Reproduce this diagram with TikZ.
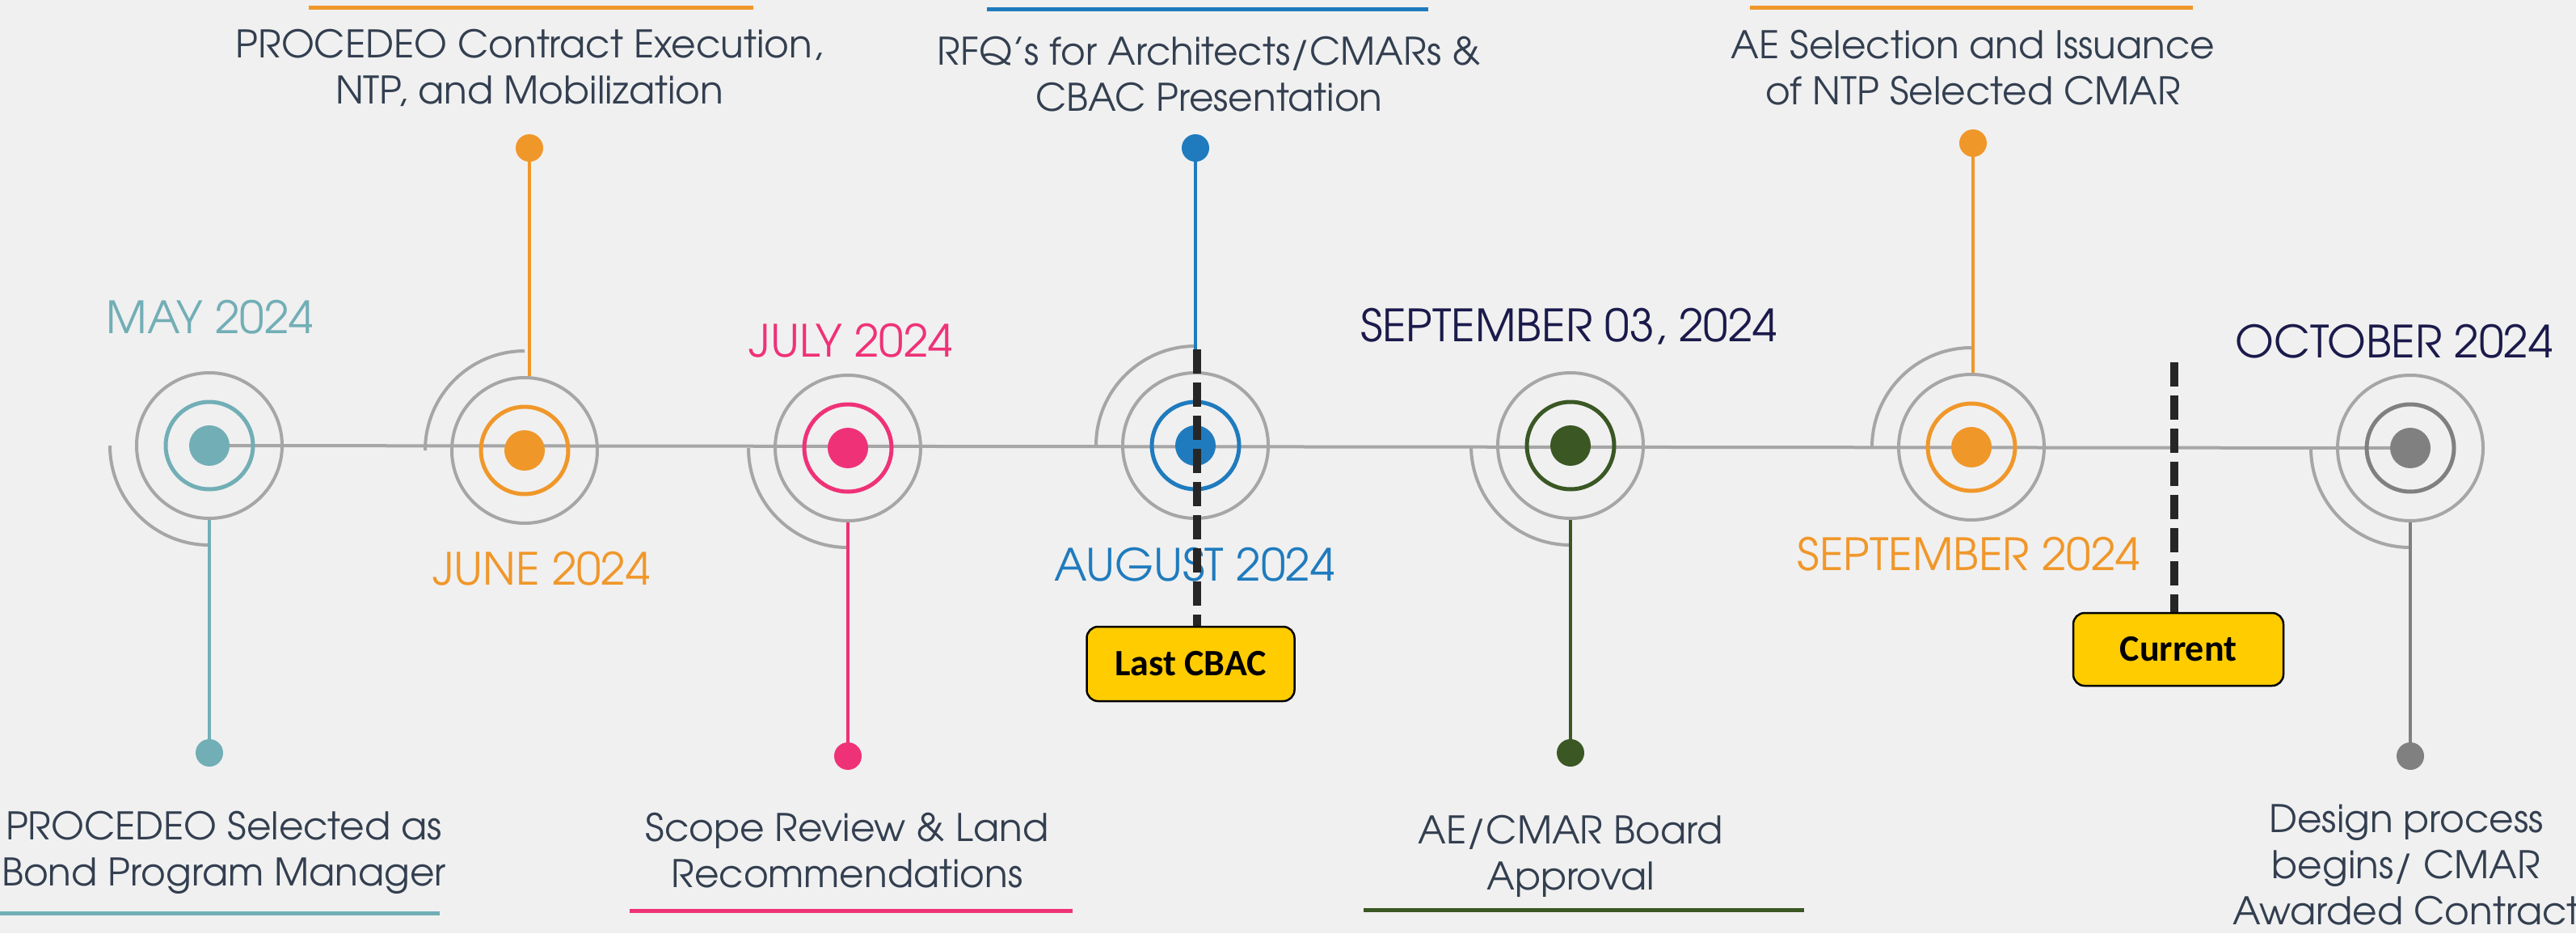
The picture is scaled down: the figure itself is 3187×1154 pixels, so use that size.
\documentclass[tikz,border=0pt]{standalone}
\usepackage{fontspec}
\setmainfont{texgyreadventor-regular.otf}
\newfontfamily\flagfont{Carlito}
\usetikzlibrary{backgrounds}

\definecolor{bgpaper}{HTML}{F0F0F0}
\definecolor{ringgray}{HTML}{A6A6A6}
\definecolor{mayteal}{HTML}{72AEB6}
\definecolor{sunorange}{HTML}{F0972A}
\definecolor{julypink}{HTML}{EF3277}
\definecolor{augblue}{HTML}{1F7BBE}
\definecolor{boardgreen}{HTML}{3A5724}
\definecolor{octgray}{HTML}{808080}
\definecolor{navytext}{HTML}{1B1A4B}
\definecolor{slatetext}{HTML}{333F50}
\definecolor{flagyellow}{HTML}{FFCC00}
\definecolor{markerdark}{HTML}{262626}

\begin{document}
\begin{tikzpicture}[x=1pt, y=1pt,
  ring/.style={circle, draw=ringgray, line width=4pt, minimum size=180pt, inner sep=0pt},
  midring/.style={circle, line width=5pt, minimum size=108pt, inner sep=0pt},
  core/.style={circle, minimum size=50pt, inner sep=0pt},
  tipdot/.style={circle, minimum size=34pt, inner sep=0pt},
  stem/.style={line width=4.5pt},
  swirl/.style={draw=ringgray, line width=4pt},
  axis/.style={draw=ringgray, line width=4pt},
  datelabel/.style={font=\fontsize{55}{60}\selectfont, anchor=base, inner sep=0pt},
  desc/.style={font=\fontsize{47}{57}\selectfont, text=slatetext, align=center, anchor=base, inner sep=0pt},
  bar/.style={line width=5pt},
  flag/.style={draw=black, line width=2.5pt, fill=flagyellow, rounded corners=14pt,
    minimum width=257pt, minimum height=92pt, inner sep=0pt,
    font=\flagfont\bfseries\fontsize{46}{50}\selectfont},
  marker/.style={draw=markerdark, line width=10pt, dash pattern=on 30pt off 11pt}
]

  \useasboundingbox (0,0) rectangle (3187,-1154);

  % Meilensteine: Ringe, Bogen, Stiel und Endpunkt
  \foreach \m/\x/\y/\c/\a/\side/\tx/\ty in {
      may/259/551/mayteal/270/south/259/931,
      june/649/557/sunorange/90/north/655/183,
      july/1049/554/julypink/270/south/1049/935,
      august/1479/551/augblue/90/north/1479/183,
      board/1943/551/boardgreen/270/south/1943/931,
      september/2439/553/sunorange/90/north/2441/177,
      october/2982/554/octgray/270/south/2982/935} {
    \node[ring] (\m) at (\x,-\y) {};
    \node[midring, draw=\c] (\m-mid) at (\m) {};
    \node[core, fill=\c] (\m-core) at (\m) {};
    \node[tipdot, fill=\c] (\m-tip) at (\tx,-\ty) {};
    \draw[swirl] (\m.center) ++(-123,0) arc[start angle=180, end angle=\a, radius=123];
    \draw[stem, draw=\c] (\m-tip) -- (\m-tip |- \m.\side);
  }

  % Hintergrund und Zeitachse
  \begin{scope}[on background layer]
    \fill[bgpaper] (0,0) rectangle (3187,-1154);
    \draw[axis] (may.center) -- (october.center);
  \end{scope}

  % Datumsangaben
  \node[datelabel, text=mayteal] (may-date) at (260,-412) {MAY 2024};
  \node[datelabel, text=sunorange] (june-date) at (670,-723) {JUNE 2024};
  \node[datelabel, text=julypink] (july-date) at (1053,-441) {JULY 2024};
  \node[datelabel, text=augblue] (august-date) at (1478,-718) {AUGUST 2024};
  \node[datelabel, text=navytext] (board-date) at (1941,-422) {SEPTEMBER 03, 2024};
  \node[datelabel, text=sunorange] (september-date) at (2436,-705) {SEPTEMBER 2024};
  \node[datelabel, text=navytext] (october-date) at (2962,-442) {OCTOBER 2024};

  % Beschreibungen (Anker: Grundlinie der letzten Zeile)
  \node[desc] (may-text) at (277,-1095) {PROCEDEO Selected as\\Bond Program Manager};
  \node[desc] (june-text) at (655,-128) {PROCEDEO Contract Execution,\\NTP, and Mobilization};
  \node[desc] (july-text) at (1048,-1097) {Scope Review \& Land\\Recommendations};
  \node[desc] (august-text) at (1496,-137) {RFQ’s for Architects/CMARs \&\\CBAC Presentation};
  \node[desc] (board-text) at (1943,-1100) {AE/CMAR Board\\Approval};
  \node[desc] (september-text) at (2441,-129) {AE Selection and Issuance\\of NTP Selected CMAR};
  \node[desc] (october-text) at (2977,-1143) {Design process\\begins/ CMAR\\Awarded Contract};

  % Farbige Balken
  \draw[bar, draw=sunorange] (382,-9) -- (932,-9);
  \draw[bar, draw=augblue] (1221,-11) -- (1767,-11);
  \draw[bar, draw=sunorange] (2165,-9) -- (2713,-9);
  \draw[bar, draw=mayteal] (0,-1129) -- (544,-1129);
  \draw[bar, draw=julypink] (779,-1126) -- (1327,-1126);
  \draw[bar, draw=boardgreen] (1687,-1125) -- (2232,-1125);

  % Markierungen
  \node[flag] (lastcbac) at (1473,-821) {Last CBAC};
  \coordinate (lastcbac-top) at (1481,-432);
  \draw[marker] (lastcbac-top) -- (lastcbac-top |- lastcbac.north);

  \node[flag, minimum width=260pt, minimum height=90pt] (current) at (2695,-803) {Current};
  \coordinate (current-top) at (2690,-448);
  \draw[marker] (current-top) -- (current-top |- current.north);

\end{tikzpicture}
\end{document}
